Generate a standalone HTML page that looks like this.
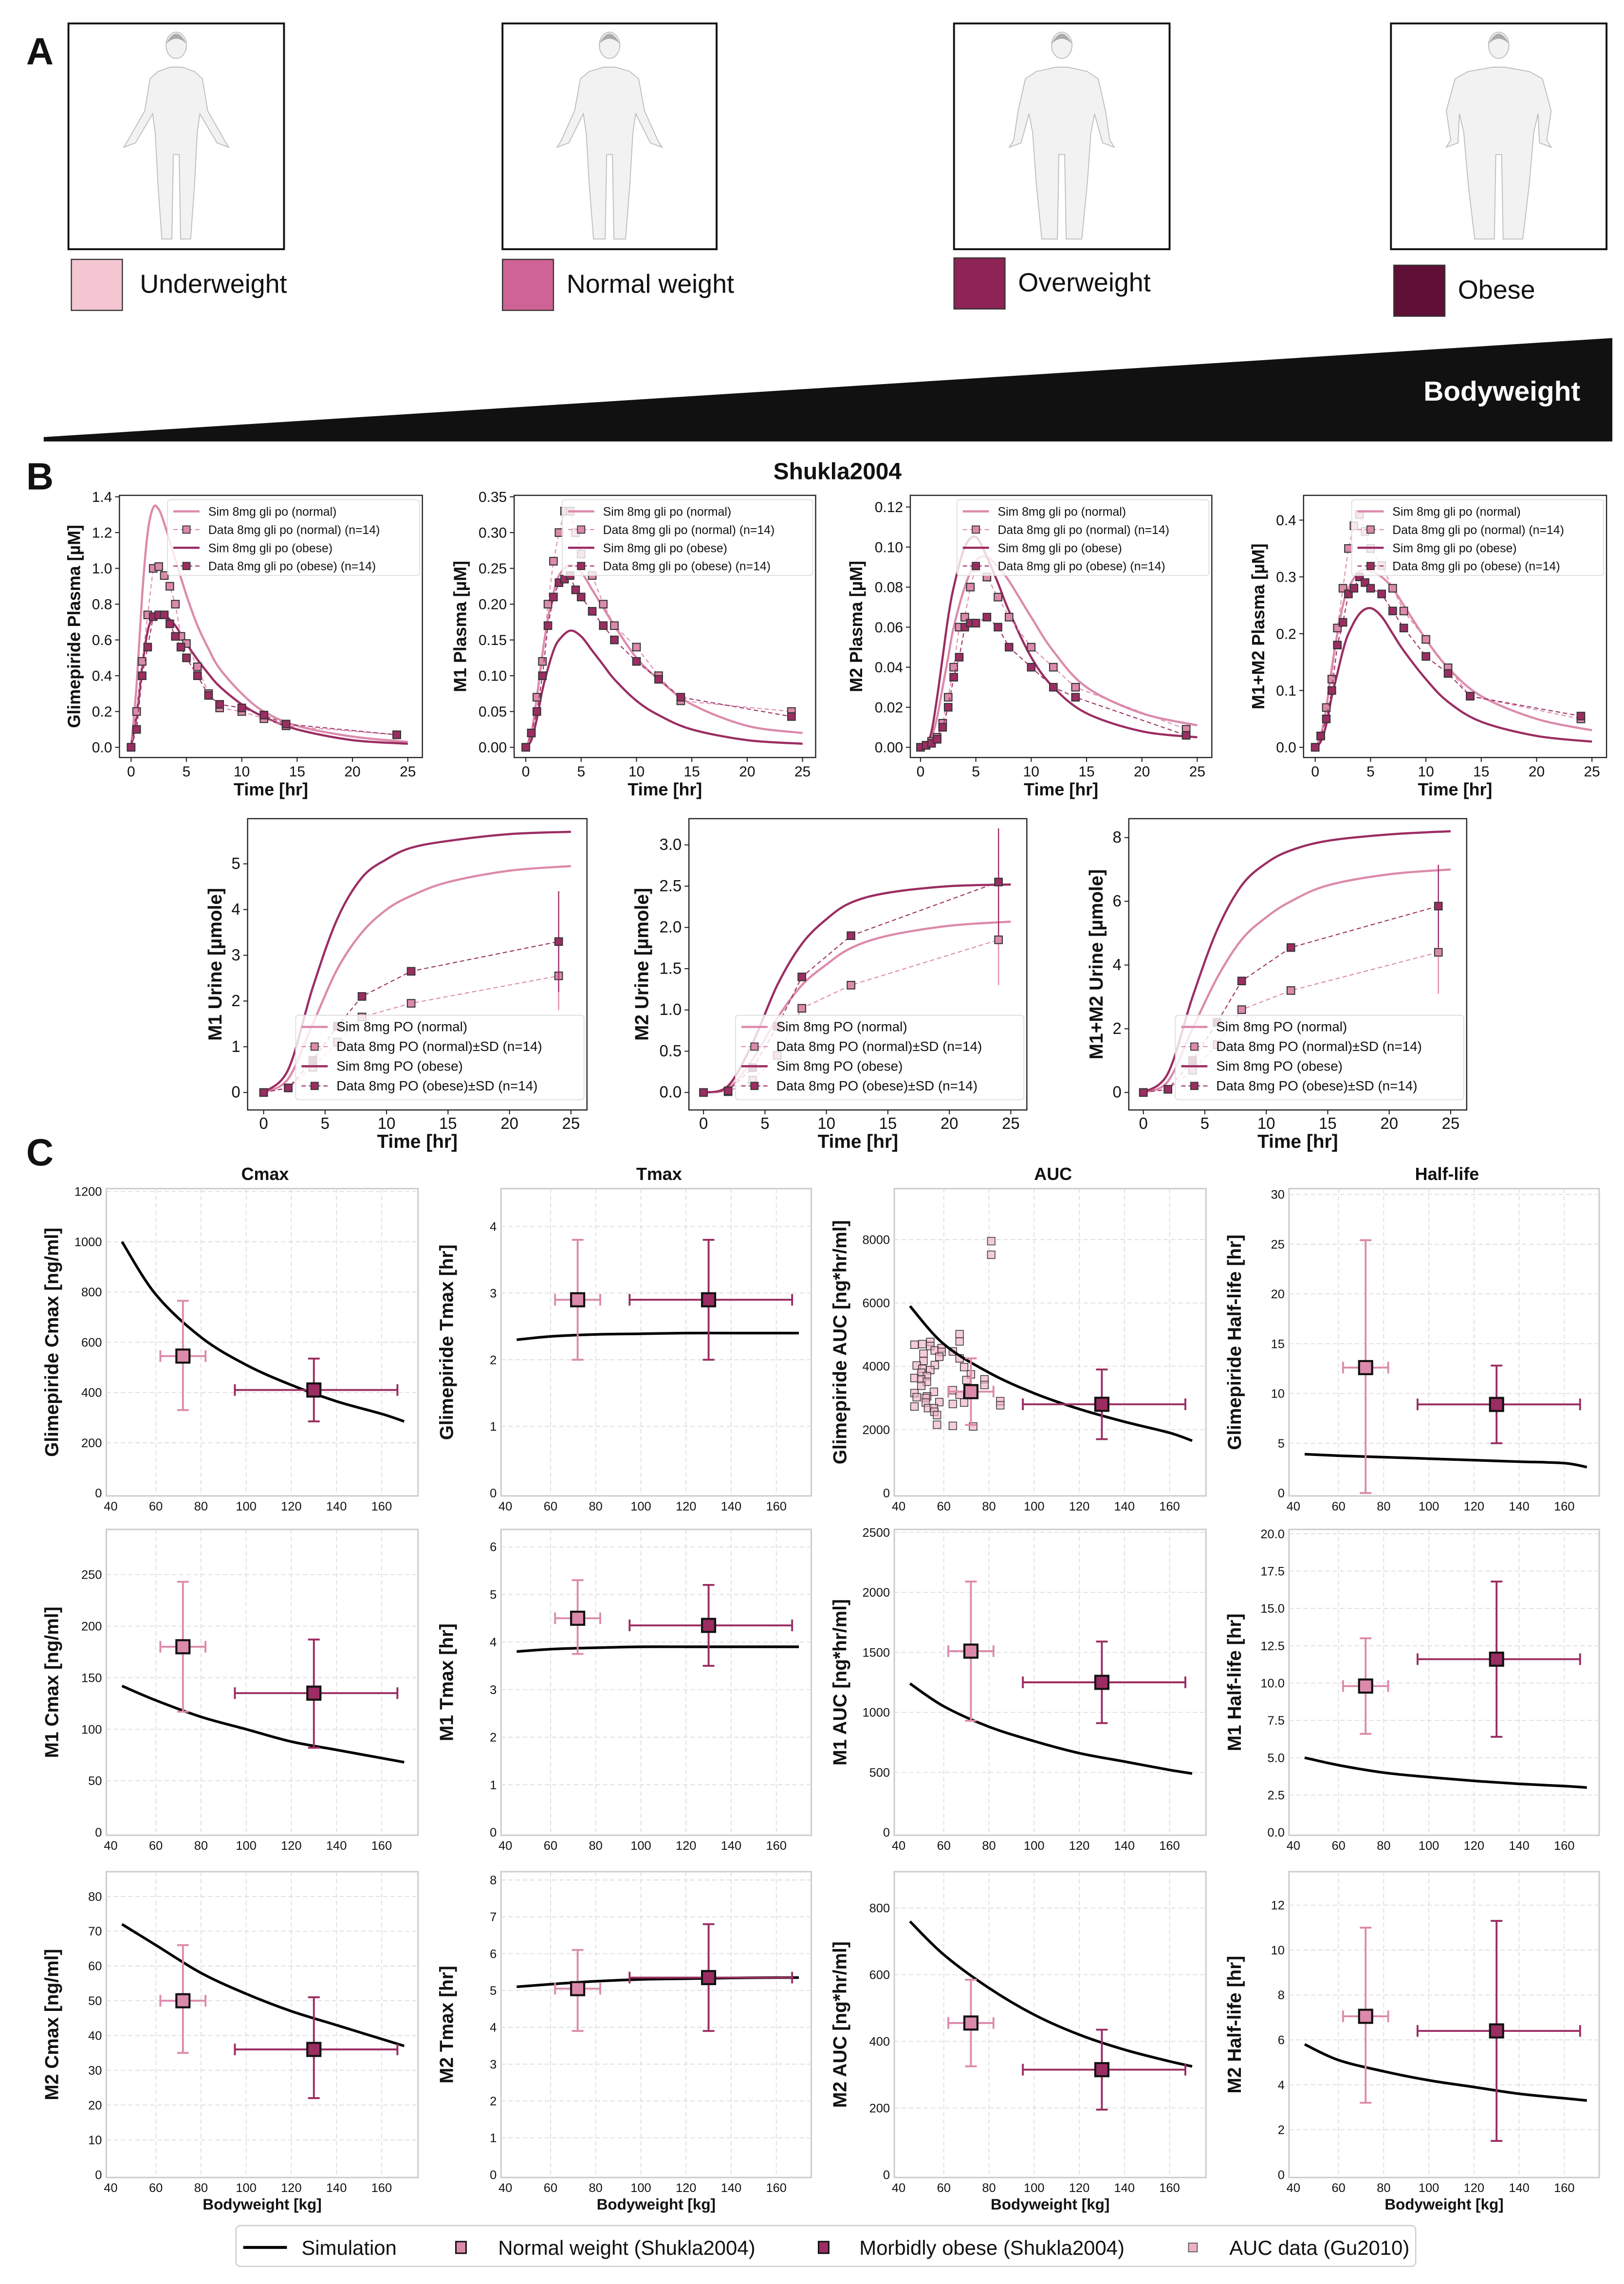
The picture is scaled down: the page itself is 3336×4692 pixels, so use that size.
<!DOCTYPE html>
<html><head><meta charset="utf-8">
<style>
html,body{margin:0;padding:0;background:#fff;}
svg{display:block;font-family:"Liberation Sans","DejaVu Sans",sans-serif;}
</style></head>
<body>
<svg id="fig" xmlns="http://www.w3.org/2000/svg" width="3336" height="4692" viewBox="0 0 1115 1568">
<rect x="0" y="0" width="1115" height="1568" fill="#fff"/>
</svg>
<script>
// ================= DATA =================
const tSim = [0,0.5,1,1.5,2,2.5,3,4,5,6,7,8,10,12,15,20,25];
const gliSimNormal = [0,0.35,0.85,1.2,1.34,1.33,1.25,1.05,0.85,0.68,0.55,0.44,0.3,0.2,0.12,0.06,0.03];
const gliSimObese = [0,0.18,0.45,0.65,0.73,0.75,0.74,0.68,0.58,0.49,0.41,0.34,0.24,0.17,0.1,0.04,0.02];
const tData = [0,0.5,1,1.5,2,2.5,3,3.5,4,4.5,5,6,7,8,10,12,14,24];
const gliDataNormal = [0,0.2,0.48,0.74,1.0,1.01,0.96,0.9,0.8,0.62,0.58,0.45,0.3,0.22,0.2,0.16,0.12,0.07];
const gliDataObese = [0,0.1,0.4,0.56,0.73,0.74,0.74,0.69,0.62,0.56,0.5,0.4,0.29,0.24,0.22,0.18,0.13,0.07];
const m1SimNormal = [0,0.02,0.07,0.13,0.18,0.215,0.24,0.255,0.245,0.22,0.195,0.17,0.125,0.095,0.06,0.03,0.02];
const m1SimObese = [0,0.01,0.04,0.08,0.11,0.135,0.15,0.163,0.155,0.135,0.115,0.095,0.065,0.045,0.025,0.01,0.005];
const m1DataNormal = [0,0.02,0.07,0.12,0.2,0.26,0.3,0.33,0.33,0.3,0.27,0.24,0.2,0.17,0.14,0.1,0.065,0.05];
const m1DataObese = [0,0.02,0.05,0.1,0.17,0.21,0.23,0.235,0.24,0.22,0.21,0.19,0.17,0.15,0.12,0.095,0.07,0.043];
const m2SimNormal = [0,0.001,0.005,0.015,0.03,0.045,0.06,0.08,0.093,0.095,0.09,0.083,0.065,0.048,0.03,0.017,0.011];
const m2SimObese = [0,0.001,0.008,0.025,0.045,0.065,0.08,0.1,0.105,0.095,0.082,0.068,0.045,0.03,0.017,0.008,0.005];
const m2DataNormal = [0,0.001,0.003,0.005,0.012,0.025,0.04,0.06,0.065,0.08,0.09,0.085,0.075,0.065,0.05,0.04,0.03,0.009];
const m2DataObese = [0,0.001,0.002,0.004,0.01,0.02,0.035,0.045,0.06,0.062,0.062,0.065,0.06,0.05,0.04,0.03,0.025,0.006];
const m12SimNormal = [0,0.02,0.07,0.14,0.2,0.25,0.28,0.31,0.31,0.3,0.28,0.25,0.19,0.14,0.09,0.05,0.03];
const m12SimObese = [0,0.01,0.04,0.09,0.13,0.17,0.2,0.235,0.245,0.23,0.2,0.17,0.12,0.08,0.045,0.02,0.01];
const m12DataNormal = [0,0.02,0.07,0.12,0.21,0.28,0.35,0.39,0.41,0.38,0.35,0.32,0.28,0.24,0.19,0.14,0.09,0.05];
const m12DataObese = [0,0.02,0.05,0.1,0.18,0.22,0.27,0.28,0.3,0.29,0.28,0.27,0.24,0.21,0.16,0.13,0.09,0.055];
const tUSim = [0,2,4,6,8,10,12,15,20,25];
const tUData = [0,2,4,6,8,12,24];
const u1SimNormal = [0,0.3,1.5,2.7,3.5,4.0,4.3,4.6,4.85,4.95];
const u1SimObese = [0,0.5,2.3,3.8,4.7,5.1,5.35,5.5,5.65,5.7];
const u1DataNormal = [0,0.1,0.55,1.1,1.65,1.95,2.55];
const u1DataObese = [0,0.1,0.7,1.45,2.1,2.65,3.3];
const u1SdNormal = [0,0,0,0,0,0,0.75];
const u1SdObese = [0,0,0,0,0,0,1.1];
const u2SimNormal = [0,0.05,0.4,0.9,1.3,1.55,1.75,1.9,2.02,2.07];
const u2SimObese = [0,0.08,0.6,1.3,1.8,2.1,2.3,2.42,2.5,2.52];
const u2DataNormal = [0,0.01,0.15,0.45,1.02,1.3,1.85];
const u2DataObese = [0,0.02,0.3,0.8,1.4,1.9,2.55];
const u2SdNormal = [0,0,0,0,0,0,0.55];
const u2SdObese = [0,0,0,0,0,0,0.65];
const u12SimNormal = [0,0.35,2,3.6,4.8,5.5,6.0,6.5,6.85,7.0];
const u12SimObese = [0,0.6,3,5.1,6.5,7.2,7.6,7.9,8.1,8.2];
const u12DataNormal = [0,0.1,0.7,1.5,2.6,3.2,4.4];
const u12DataObese = [0,0.1,1.0,2.2,3.5,4.55,5.85];
const u12SdNormal = [0,0,0,0,0,0,1.3];
const u12SdObese = [0,0,0,0,0,0,1.3];
const bwSim = [45,60,80,100,120,140,160,170];
const bwNormal = [72, 62, 82];
const bwObese = [130, 95, 167];
const simGliCmax = [1000,790,620,510,430,365,315,285];
const simGliTmax = [2.3,2.35,2.38,2.39,2.4,2.4,2.4,2.4];
const simGliAuc = [5900,4700,3800,3150,2650,2250,1900,1650];
const simGliHl = [3.9,3.75,3.6,3.45,3.3,3.15,3.0,2.6];
const simM1Cmax = [142,128,112,100,88,80,72,68];
const simM1Tmax = [3.8,3.85,3.88,3.9,3.9,3.9,3.9,3.9];
const simM1Auc = [1240,1050,880,760,660,590,520,490];
const simM1Hl = [5.0,4.5,4.0,3.7,3.45,3.25,3.1,3.0];
const simM2Cmax = [72,66,58,52,47,43,39,37];
const simM2Tmax = [5.1,5.17,5.25,5.3,5.32,5.34,5.35,5.35];
const simM2Auc = [760,660,560,480,420,375,340,325];
const simM2Hl = [5.8,5.1,4.6,4.2,3.9,3.6,3.4,3.3];
const dGliCmax = [[545,330,765],[410,285,535]];
const dGliTmax = [[2.9,2.0,3.8],[2.9,2.0,3.8]];
const dGliAuc = [[3200,2150,4250],[2800,1700,3900]];
const dGliHl = [[12.6,0,25.4],[8.9,5.0,12.8]];
const dM1Cmax = [[180,117,243],[135,82,187]];
const dM1Tmax = [[4.5,3.75,5.3],[4.35,3.5,5.2]];
const dM1Auc = [[1510,930,2090],[1250,910,1590]];
const dM1Hl = [[9.8,6.6,13.0],[11.6,6.4,16.8]];
const dM2Cmax = [[50,35,66],[36,22,51]];
const dM2Tmax = [[5.05,3.9,6.1],[5.35,3.9,6.8]];
const dM2Auc = [[455,325,585],[315,195,435]];
const dM2Hl = [[7.05,3.2,11.0],[6.4,1.5,11.3]];
const guBw = [81,81,67,67,47,50.5,54,54,56,59,59,64,67,58,51,51,48,56,54,50.5,69,50,52.5,47,50,52.5,72,70,78,78,50,64,47,55.6,48,67,52.6,52,58,52,47,53,55.6,64,69,85,85,55.8,57,57,64,73];
const guAuc = [7950,7520,5015,4785,4680,4700,4770,4640,4500,4575,4455,4470,4250,4300,4395,4170,4025,4040,3880,3920,3975,3795,3690,3630,3590,3510,3745,3565,3590,3410,3385,3245,3155,3195,3025,3100,3050,3000,2870,2855,2730,2680,2680,2810,2855,2900,2770,2565,2460,2155,2120,2100];

// ================= HELPERS =================
const NS = "http://www.w3.org/2000/svg";
const svg = document.getElementById('fig');
const CN = "#dc8aab", CO = "#9b2d62";
function mk(tag, attrs, parent){
  const e = document.createElementNS(NS, tag);
  for (const k in attrs) e.setAttribute(k, attrs[k]);
  (parent||svg).appendChild(e);
  return e;
}
function txt(x,y,s,size,opts,parent){
  opts = opts||{};
  const e = mk('text',{x:x,y:y,'font-size':size,fill:opts.fill||'#111','text-anchor':opts.anchor||'start','font-weight':opts.bold?'bold':'normal'},parent);
  if (opts.rot) e.setAttribute('transform','rotate(-90 '+x+' '+y+')');
  if (opts.family) e.setAttribute('font-family',opts.family);
  e.textContent = s;
  return e;
}
function lin(d0,d1,r0,r1){ return v => r0 + (v-d0)*(r1-r0)/(d1-d0); }
function pathD(xs,ys,X,Y){ return xs.map((x,i)=>(i?'L':'M')+X(x).toFixed(2)+' '+Y(ys[i]).toFixed(2)).join(' '); }
// smooth monotone-ish (Catmull-Rom) path
function smoothD(xs,ys,X,Y){
  const p = xs.map((x,i)=>[X(x),Y(ys[i])]);
  let d = 'M'+p[0][0].toFixed(2)+' '+p[0][1].toFixed(2);
  for (let i=0;i<p.length-1;i++){
    const p0=p[Math.max(0,i-1)], p1=p[i], p2=p[i+1], p3=p[Math.min(p.length-1,i+2)];
    const c1=[p1[0]+(p2[0]-p0[0])/6, p1[1]+(p2[1]-p0[1])/6];
    const c2=[p2[0]-(p3[0]-p1[0])/6, p2[1]-(p3[1]-p1[1])/6];
    d += ' C'+c1[0].toFixed(2)+' '+c1[1].toFixed(2)+' '+c2[0].toFixed(2)+' '+c2[1].toFixed(2)+' '+p2[0].toFixed(2)+' '+p2[1].toFixed(2);
  }
  return d;
}

// ================= PANEL A =================
const pa = mk('g',{});


txt(18,44,'A',26,{bold:true},pa);
const boxesA = [[47,16,148,155,0.9],[345,16,147,155,1.0],[655,16,148,155,1.25],[955,16,148,155,1.5]];
boxesA.forEach((b,i)=>{
  const g = mk('g',{},pa);
  
  
  mk('rect',{x:b[0],y:b[1],width:b[2],height:b[3],fill:'#fff',stroke:'#111','stroke-width':1.3},g);
  const cx=b[0]+b[2]/2, w=b[4];
  const s='#bbb';
  mk('path',{d:`M${cx-14*w} ${b[1]+33} L${cx-20*w} ${b[1]+38} L${cx-24*w} ${b[1]+60} L${cx-33} ${b[1]+80} L${cx-36} ${b[1]+85} L${cx-28} ${b[1]+82} L${cx-18*w} ${b[1]+62} L${cx-16*w} ${b[1]+75} L${cx-14*w} ${b[1]+110} L${cx-11*w} ${b[1]+148} L${cx-3} ${b[1]+148} L${cx-2} ${b[1]+90} L${cx+2} ${b[1]+90} L${cx+3} ${b[1]+148} L${cx+11*w} ${b[1]+148} L${cx+14*w} ${b[1]+110} L${cx+16*w} ${b[1]+75} L${cx+18*w} ${b[1]+62} L${cx+28} ${b[1]+82} L${cx+36} ${b[1]+85} L${cx+33} ${b[1]+80} L${cx+24*w} ${b[1]+60} L${cx+20*w} ${b[1]+38} L${cx+14*w} ${b[1]+33} L${cx+4} ${b[1]+30} L${cx-4} ${b[1]+30} Z`,fill:'#f2f2f2',stroke:s,'stroke-width':0.6},g);
  mk('ellipse',{cx:cx,cy:b[1]+15,rx:7,ry:9,fill:'#f2f2f2',stroke:s,'stroke-width':0.6},g);
  mk('path',{d:`M${cx-7} ${b[1]+14} Q${cx} ${b[1]+0} ${cx+7} ${b[1]+14} Q${cx} ${b[1]+7} ${cx-7} ${b[1]+14}Z`,fill:'#aaa'},g);
});
const legA = [[49,178,'#f4c6d1','Underweight',96,194],[345,178,'#cf6395','Normal weight',389,194],[655,177,'#8e2355','Overweight',699,193],[957,182,'#600f36','Obese',1001,198]];
legA.forEach(l=>{
  const g = mk('g',{},pa);
  
  
  mk('rect',{x:l[0],y:l[1],width:35,height:35,fill:l[2],stroke:'#333','stroke-width':0.8},g);
  txt(l[4],l[5]+7,l[3],18,{},g);
});
const tri = mk('polygon',{points:'30,300 1107,232 1107,303 30,303',fill:'#111'},pa);


txt(1085,275,'Bodyweight',19,{bold:true,fill:'#fff',anchor:'end'},pa);

// ================= PANEL B =================
txt(18,336,'B',26,{bold:true});
txt(575,329,'Shukla2004',16,{bold:true,anchor:'middle'});

function tsPlot(cfg){
  const g = mk('g',{});
  
  
  const [fx0,fy0,fx1,fy1]=cfg.frame;
  const X = lin(0,25,cfg.xr[0],cfg.xr[1]);
  const Y = lin(0,cfg.ytop,cfg.yr[0],cfg.yr[1]);
  mk('rect',{x:fx0,y:fy0,width:fx1-fx0,height:fy1-fy0,fill:'#fff',stroke:'#222','stroke-width':0.8},g);
  [0,5,10,15,20,25].forEach(v=>{
    mk('line',{x1:X(v),x2:X(v),y1:fy1,y2:fy1+3,stroke:'#222','stroke-width':0.7},g);
    txt(X(v),fy1+13,String(v),cfg.fs||10,{anchor:'middle'},g);
  });
  cfg.yticks.forEach((v,i)=>{
    mk('line',{x1:fx0-3,x2:fx0,y1:Y(v),y2:Y(v),stroke:'#222','stroke-width':0.7},g);
    txt(fx0-5,Y(v)+3.5,cfg.ylabels[i],cfg.fs||10,{anchor:'end'},g);
  });
  const xl = txt((fx0+fx1)/2,fy1+26,'Time [hr]',cfg.lfs||12,{bold:true,anchor:'middle'},g);
  
  const yl = txt(cfg.ylx,(fy0+fy1)/2,cfg.ylabel,cfg.lfs||12,{bold:true,anchor:'middle',rot:true},g);
  
  const series = [
    {sim:cfg.simN, data:cfg.dataN, sd:cfg.sdN, c:CN, w:1.5},
    {sim:cfg.simO, data:cfg.dataO, sd:cfg.sdO, c:CO, w:1.5}];
  series.forEach((s,si)=>{
    const p = mk('path',{d:smoothD(cfg.tsim,s.sim,X,Y),fill:'none',stroke:s.c,'stroke-width':s.w},g);
    
  });
  series.forEach((s,si)=>{
    const p = mk('path',{d:pathD(cfg.tdata,s.data,X,Y),fill:'none',stroke:s.c,'stroke-width':0.7,'stroke-dasharray':'3,2'},g);
    
    cfg.tdata.forEach((t,i)=>{
      if (s.sd && s.sd[i]>0){
        const eb = mk('line',{x1:X(t),x2:X(t),y1:Y(s.data[i]-s.sd[i]),y2:Y(s.data[i]+s.sd[i]),stroke:s.c,'stroke-width':0.8},g);
        
      }
      const r = mk('rect',{x:X(t)-2.6,y:Y(s.data[i])-2.6,width:5.2,height:5.2,fill:s.c,stroke:'#333','stroke-width':0.7},g);
      
    });
  });
  const [lx,ly,lw,lh,step,lfs]=cfg.leg;
  const lg = mk('g',{},g);
  
  
  mk('rect',{x:lx,y:ly,width:lw,height:lh,rx:2,fill:'#fff','fill-opacity':0.8,stroke:'#ddd','stroke-width':0.6},lg);
  cfg.legText.forEach((t,i)=>{
    const yy = ly+8+i*step;
    const c = i<2?CN:CO;
    if (i%2===0) mk('line',{x1:lx+4,x2:lx+22,y1:yy,y2:yy,stroke:c,'stroke-width':1.5},lg);
    else { mk('line',{x1:lx+4,x2:lx+22,y1:yy,y2:yy,stroke:c,'stroke-width':0.7,'stroke-dasharray':'3,2'},lg);
      mk('rect',{x:lx+10.5,y:yy-2.5,width:5,height:5,fill:c,stroke:'#333','stroke-width':0.6},lg); }
    txt(lx+28,yy+3,t,lfs,{},lg);
  });
}
const legTop = ['Sim 8mg gli po (normal)','Data 8mg gli po (normal) (n=14)','Sim 8mg gli po (obese)','Data 8mg gli po (obese) (n=14)'];
const legBot = ['Sim 8mg PO (normal)','Data 8mg PO (normal)±SD (n=14)','Sim 8mg PO (obese)','Data 8mg PO (obese)±SD (n=14)'];
tsPlot({name:'plot-glimepiride-plasma',frame:[82,340,290,520],xr:[90,280],ytop:1.4,yr:[513,341],yticks:[0,0.2,0.4,0.6,0.8,1.0,1.2,1.4],ylabels:['0.0','0.2','0.4','0.6','0.8','1.0','1.2','1.4'],ylabel:'Glimepiride Plasma [µM]',ylx:55,tsim:tSim,simN:gliSimNormal,simO:gliSimObese,tdata:tData,dataN:gliDataNormal,dataO:gliDataObese,leg:[115,343,173,52,12.5,8.3],legText:legTop});
tsPlot({name:'plot-m1-plasma',frame:[353,340,560,520],xr:[361,551],ytop:0.35,yr:[513,341],yticks:[0,0.05,0.1,0.15,0.2,0.25,0.3,0.35],ylabels:['0.00','0.05','0.10','0.15','0.20','0.25','0.30','0.35'],ylabel:'M1 Plasma [µM]',ylx:320,tsim:tSim,simN:m1SimNormal,simO:m1SimObese,tdata:tData,dataN:m1DataNormal,dataO:m1DataObese,leg:[386,343,172,52,12.5,8.3],legText:legTop});
tsPlot({name:'plot-m2-plasma',frame:[625,340,832,520],xr:[632,822],ytop:0.12,yr:[513,348],yticks:[0,0.02,0.04,0.06,0.08,0.1,0.12],ylabels:['0.00','0.02','0.04','0.06','0.08','0.10','0.12'],ylabel:'M2 Plasma [µM]',ylx:592,tsim:tSim,simN:m2SimNormal,simO:m2SimObese,tdata:tData,dataN:m2DataNormal,dataO:m2DataObese,leg:[657,343,173,52,12.5,8.3],legText:legTop});
tsPlot({name:'plot-m1m2-plasma',frame:[895,340,1103,520],xr:[903,1093],ytop:0.4,yr:[513,357],yticks:[0,0.1,0.2,0.3,0.4],ylabels:['0.0','0.1','0.2','0.3','0.4'],ylabel:'M1+M2 Plasma [µM]',ylx:868,tsim:tSim,simN:m12SimNormal,simO:m12SimObese,tdata:tData,dataN:m12DataNormal,dataO:m12DataObese,leg:[928,343,173,52,12.5,8.3],legText:legTop});
tsPlot({name:'plot-m1-urine',frame:[170,562,403,762],xr:[181,392],ytop:5,yr:[750,593],yticks:[0,1,2,3,4,5],ylabels:['0','1','2','3','4','5'],ylabel:'M1 Urine [µmole]',ylx:152,tsim:tUSim,simN:u1SimNormal,simO:u1SimObese,tdata:tUData,dataN:u1DataNormal,dataO:u1DataObese,sdN:u1SdNormal,sdO:u1SdObese,leg:[203,697,198,58,13.5,9.3],legText:legBot,fs:11,lfs:13});
tsPlot({name:'plot-m2-urine',frame:[473,562,705,762],xr:[483,694],ytop:3,yr:[750,580],yticks:[0,0.5,1,1.5,2,2.5,3],ylabels:['0.0','0.5','1.0','1.5','2.0','2.5','3.0'],ylabel:'M2 Urine [µmole]',ylx:445,tsim:tUSim,simN:u2SimNormal,simO:u2SimObese,tdata:tUData,dataN:u2DataNormal,dataO:u2DataObese,sdN:u2SdNormal,sdO:u2SdObese,leg:[505,697,198,58,13.5,9.3],legText:legBot,fs:11,lfs:13});
tsPlot({name:'plot-m1m2-urine',frame:[775,562,1007,762],xr:[785,996],ytop:8,yr:[750,575],yticks:[0,2,4,6,8],ylabels:['0','2','4','6','8'],ylabel:'M1+M2 Urine [µmole]',ylx:757,tsim:tUSim,simN:u12SimNormal,simO:u12SimObese,tdata:tUData,dataN:u12DataNormal,dataO:u12DataObese,sdN:u12SdNormal,sdO:u12SdObese,leg:[807,697,198,58,13.5,9.3],legText:legBot,fs:11,lfs:13});

// ================= PANEL C =================
txt(18,800,'C',26,{bold:true});
const colX = [[73,287],[344,557],[614,828],[885,1098]];
const rowY = [[816,1027],[1050,1260],[1285,1495]];
['Cmax','Tmax','AUC','Half-life'].forEach((t,i)=>{
  const e = txt((colX[i][0]+colX[i][1])/2+2,810,t,12,{bold:true,anchor:'middle'});
  
});
function bwPlot(cfg){
  const g = mk('g',{});
  
  
  const [fx0,fx1]=colX[cfg.col], [fy0,fy1]=rowY[cfg.row];
  const X = lin(40,160,fx0+3,fx0+189);
  const Y = lin(0,cfg.ytv,fy1-2,cfg.ytp);
  mk('rect',{x:fx0,y:fy0,width:fx1-fx0,height:fy1-fy0,fill:'#fff',stroke:'#ccc','stroke-width':1},g);
  [40,60,80,100,120,140,160].forEach(v=>{
    if (v>40) mk('line',{x1:X(v),x2:X(v),y1:fy0,y2:fy1,stroke:'#ddd','stroke-width':0.6,'stroke-dasharray':'3,2'},g);
    txt(X(v),fy1+10,String(v),8.5,{anchor:'middle'},g);
  });
  cfg.yticks.forEach((v,i)=>{
    if (v>0) mk('line',{x1:fx0,x2:fx1,y1:Y(v),y2:Y(v),stroke:'#ddd','stroke-width':0.6,'stroke-dasharray':'3,2'},g);
    txt(fx0-3,Y(v)+3,cfg.ylabels[i],8.5,{anchor:'end'},g);
  });
  const yl = txt(fx0-33,(fy0+fy1)/2,cfg.ylabel,13,{bold:true,anchor:'middle',rot:true},g);
  
  if (cfg.row===2){
    const xl = txt((fx0+fx1)/2,fy1+22,'Bodyweight [kg]',10.5,{bold:true,anchor:'middle'},g);
    
  }
  if (cfg.gu){
    guBw.forEach((b,i)=>{
      const r = mk('rect',{x:X(b)-2.6,y:Y(guAuc[i])-2.6,width:5.2,height:5.2,fill:'#eeb0c6','fill-opacity':0.65,stroke:'#333','stroke-width':0.5},g);
      
    });
  }
  const sim = mk('path',{d:smoothD(bwSim,cfg.sim,X,Y),fill:'none',stroke:'#000','stroke-width':1.8},g);
  
  [[bwNormal,cfg.d[0],'#dc8aab','normal'],[bwObese,cfg.d[1],'#9b2d62','obese']].forEach(q=>{
    const [bw,d,c,nm]=q;
    const eg = mk('g',{},g);
    
    
    mk('line',{x1:X(bw[1]),x2:X(bw[2]),y1:Y(d[0]),y2:Y(d[0]),stroke:c,'stroke-width':1.3},eg);
    mk('line',{x1:X(bw[0]),x2:X(bw[0]),y1:Y(d[1]),y2:Y(d[2]),stroke:c,'stroke-width':1.3},eg);
    [bw[1],bw[2]].forEach(v=>mk('line',{x1:X(v),x2:X(v),y1:Y(d[0])-4,y2:Y(d[0])+4,stroke:c,'stroke-width':1.3},eg));
    [d[1],d[2]].forEach(v=>mk('line',{x1:X(bw[0])-4,x2:X(bw[0])+4,y1:Y(v),y2:Y(v),stroke:c,'stroke-width':1.3},eg));
    mk('rect',{x:X(bw[0])-4.5,y:Y(d[0])-4.5,width:9,height:9,fill:c,stroke:'#111','stroke-width':1.4},eg);
  });
}
function tk(n,step){ const a=[]; for(let i=0;i<=n;i++) a.push(+(i*step).toFixed(3)); return a; }
function lbl(a,dec){ return a.map(v=>dec?v.toFixed(dec):String(v)); }
let yt;
yt=tk(6,200); bwPlot({name:'plot-gli-cmax',row:0,col:0,ytv:1200,ytp:818,yticks:yt,ylabels:lbl(yt),ylabel:'Glimepiride Cmax [ng/ml]',sim:simGliCmax,d:dGliCmax});
yt=tk(4,1); bwPlot({name:'plot-gli-tmax',row:0,col:1,ytv:4,ytp:842,yticks:yt,ylabels:lbl(yt),ylabel:'Glimepiride Tmax [hr]',sim:simGliTmax,d:dGliTmax});
yt=tk(4,2000); bwPlot({name:'plot-gli-auc',row:0,col:2,ytv:8000,ytp:851,yticks:yt,ylabels:lbl(yt),ylabel:'Glimepiride AUC [ng*hr/ml]',sim:simGliAuc,d:dGliAuc,gu:true});
yt=tk(6,5); bwPlot({name:'plot-gli-halflife',row:0,col:3,ytv:30,ytp:820,yticks:yt,ylabels:lbl(yt),ylabel:'Glimepiride Half-life [hr]',sim:simGliHl,d:dGliHl});
yt=tk(5,50); bwPlot({name:'plot-m1-cmax',row:1,col:0,ytv:250,ytp:1081,yticks:yt,ylabels:lbl(yt),ylabel:'M1 Cmax [ng/ml]',sim:simM1Cmax,d:dM1Cmax});
yt=tk(6,1); bwPlot({name:'plot-m1-tmax',row:1,col:1,ytv:6,ytp:1062,yticks:yt,ylabels:lbl(yt),ylabel:'M1 Tmax [hr]',sim:simM1Tmax,d:dM1Tmax});
yt=tk(5,500); bwPlot({name:'plot-m1-auc',row:1,col:2,ytv:2500,ytp:1052,yticks:yt,ylabels:lbl(yt),ylabel:'M1 AUC [ng*hr/ml]',sim:simM1Auc,d:dM1Auc});
yt=tk(8,2.5); bwPlot({name:'plot-m1-halflife',row:1,col:3,ytv:20,ytp:1053,yticks:yt,ylabels:lbl(yt,1),ylabel:'M1 Half-life [hr]',sim:simM1Hl,d:dM1Hl});
yt=tk(8,10); bwPlot({name:'plot-m2-cmax',row:2,col:0,ytv:80,ytp:1302,yticks:yt,ylabels:lbl(yt),ylabel:'M2 Cmax [ng/ml]',sim:simM2Cmax,d:dM2Cmax});
yt=tk(8,1); bwPlot({name:'plot-m2-tmax',row:2,col:1,ytv:7,ytp:1316,yticks:yt,ylabels:lbl(yt),ylabel:'M2 Tmax [hr]',sim:simM2Tmax,d:dM2Tmax});
yt=tk(4,200); bwPlot({name:'plot-m2-auc',row:2,col:2,ytv:800,ytp:1310,yticks:yt,ylabels:lbl(yt),ylabel:'M2 AUC [ng*hr/ml]',sim:simM2Auc,d:dM2Auc});
yt=tk(6,2); bwPlot({name:'plot-m2-halflife',row:2,col:3,ytv:12,ytp:1308,yticks:yt,ylabels:lbl(yt),ylabel:'M2 Half-life [hr]',sim:simM2Hl,d:dM2Hl});

const lg = mk('g',{});


mk('rect',{x:162,y:1528,width:810,height:28,rx:3,fill:'#fff',stroke:'#ccc','stroke-width':0.8},lg);
mk('line',{x1:167,x2:197,y1:1543,y2:1543,stroke:'#000','stroke-width':2},lg);
const NF='"Liberation Sans Narrow","Liberation Sans",sans-serif';
txt(207,1548,'Simulation',14,{family:NF},lg);
mk('rect',{x:313,y:1539,width:7,height:8,fill:'#dc8aab',stroke:'#111','stroke-width':1},lg);
txt(342,1548,'Normal weight (Shukla2004)',14,{family:NF},lg);
mk('rect',{x:562,y:1539,width:7,height:8,fill:'#9b2d62',stroke:'#111','stroke-width':1},lg);
txt(590,1548,'Morbidly obese (Shukla2004)',14,{family:NF},lg);
mk('rect',{x:816,y:1540,width:6,height:6,fill:'#eeb0c6',stroke:'#555','stroke-width':0.6},lg);
txt(844,1548,'AUC data (Gu2010)',14,{family:NF},lg);
</script>
</body></html>
